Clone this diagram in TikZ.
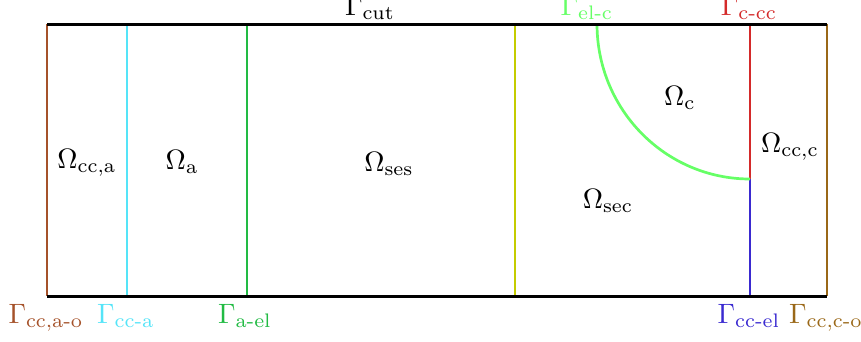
\documentclass[tikz,border=0pt]{standalone}
\usepackage{amsmath}
\begin{document}
\begin{tikzpicture}[x=1pt,y=-1pt,
  lbl/.style={scale=2.8, inner sep=0pt},
  bnd/.style={line width=2.6pt},
  frame/.style={line width=3.0pt, black}]
\definecolor{cbrownL}{HTML}{A5522A}
\definecolor{ccyan}{HTML}{55E4F8}
\definecolor{cgreen}{HTML}{22BB44}
\definecolor{cyell}{HTML}{C4CC00}
\definecolor{carc}{HTML}{66FF66}
\definecolor{cred}{HTML}{D42A2A}
\definecolor{cblue}{HTML}{3A2AD0}
\definecolor{cochre}{HTML}{9A6818}
\useasboundingbox (0,0) rectangle (861,341);
% coordinates
\coordinate (tl) at (47,24);   \coordinate (bl) at (47,296);
\coordinate (tr) at (827,24);  \coordinate (br) at (827,296);
\coordinate (t1) at (127,24);  \coordinate (b1) at (127,296);
\coordinate (t2) at (247,24);  \coordinate (b2) at (247,296);
\coordinate (t3) at (515,24);  \coordinate (b3) at (515,296);
\coordinate (t4) at (750,24);  \coordinate (m4) at (750,179); \coordinate (b4) at (750,296);
\coordinate (a0) at (597,24);
% boundaries
\draw[bnd, cbrownL] (tl) -- (bl);
\draw[bnd, ccyan] (t1) -- (b1);
\draw[bnd, cgreen] (t2) -- (b2);
\draw[bnd, cyell] (t3) -- (b3);
\draw[bnd, cred] (t4) -- (m4);
\draw[bnd, cblue] (m4) -- (b4);
\draw[bnd, cochre] (tr) -- (br);
\draw[line width=2.7pt, carc] (a0) arc[start angle=180, end angle=90, x radius=153, y radius=155];
\draw[frame] (tl) -- (tr);
\draw[frame] (bl) -- (br);
% top labels
\node[lbl, anchor=base] (gcut) at (370,15) {$\Gamma_{\mathrm{cut}}$};
\node[lbl, anchor=base, text=carc] (gelc) at (587,15) {$\Gamma_{\text{el-c}}$};
\node[lbl, anchor=base, text=cred] (gccc) at (749,15) {$\Gamma_{\text{c-cc}}$};
% bottom labels
\node[lbl, anchor=base, text=cbrownL] (gao) at (46,323) {$\Gamma_{\text{cc,a-o}}$};
\node[lbl, anchor=base, text=ccyan] (gcca) at (126,323) {$\Gamma_{\text{cc-a}}$};
\node[lbl, anchor=base, text=cgreen] (gael) at (245,323) {$\Gamma_{\text{a-el}}$};
\node[lbl, anchor=base, text=cblue] (gccel) at (749,323) {$\Gamma_{\text{cc-el}}$};
\node[lbl, anchor=base, text=cochre] (gco) at (826,323) {$\Gamma_{\text{cc,c-o}}$};
% domain labels
\node[lbl] (occa) at (87,163) {$\Omega_{\text{cc,a}}$};
\node[lbl] (oa) at (182,162) {$\Omega_{\mathrm{a}}$};
\node[lbl] (oses) at (389,164) {$\Omega_{\mathrm{ses}}$};
\node[lbl] (oc) at (680,98) {$\Omega_{\mathrm{c}}$};
\node[lbl] (occc) at (790,147) {$\Omega_{\text{cc,c}}$};
\node[lbl] (osec) at (608,201) {$\Omega_{\mathrm{sec}}$};
\end{tikzpicture}
\end{document}
